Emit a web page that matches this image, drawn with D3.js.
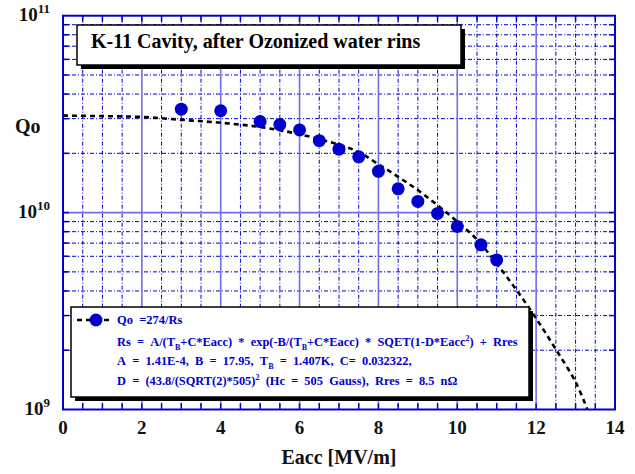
<!DOCTYPE html>
<html>
<head>
  <meta charset="UTF-8">
  <style>
    body {
      margin: 0;
      background: #fff;
    }
    svg text {
      font-family: 'Liberation Serif', 'Times New Roman', serif;
      font-weight: bold;
    }
    .tick-label {
      font-size: 19px;
      fill: #111;
    }
    .legend-text {
      font-size: 12.4px;
      fill: #0000cc;
    }
  </style>
  <script src="https://d3js.org/d3.v7.min.js"></script>
</head>
<body>
  <div class="chart"></div>
</body>
<script>
// measured points
const eacc = [3.0, 4.0, 5.0, 5.5, 6.0, 6.5, 7.0, 7.5, 8.0, 8.5, 9.0, 9.5, 10.0, 10.6, 11.0];
const qo = [3.35e10, 3.29e10, 2.9e10, 2.8e10, 2.63e10, 2.32e10, 2.1e10, 1.92e10, 1.62e10, 1.32e10, 1.14e10, 0.99e10, 0.85e10, 6.86e9, 5.75e9];

// fit curve
const fitE = [0, 1, 2, 3, 4, 5, 6, 7, 7.5, 8, 8.5, 9, 9.5, 10, 10.5, 11, 11.5, 12, 12.5, 13, 13.3];
const fitQ = [3.11e10, 3.09e10, 3.06e10, 2.96e10, 2.86e10, 2.72e10, 2.5e10, 2.21e10, 2.03e10, 1.76e10, 1.52e10, 1.3e10, 1.09e10, 9.0e9, 7.3e9, 5.5e9, 4.05e9, 2.9e9, 2.02e9, 1.38e9, 1.0e9];

const xTicks = [0, 2, 4, 6, 8, 10, 12, 14];
const yDecades = [1e9, 1e10, 1e11];
const yDecadeExp = ['9', '10', '11'];

const titleText = 'K-11 Cavity, after Ozonized water rins';
// legend strings are written with single spaces, every space is drawn double
const legendLabel = 'Qo =274/Rs';
const legendLines = [
  [['Rs = A/(T'], ['B', 'sub'], ['+C*Eacc) * exp(-B/(T'], ['B', 'sub'], ['+C*Eacc) * SQET(1-D*Eacc'], ['2', 'sup'], [') + Rres']],
  [['A = 1.41E-4, B = 17.95, T'], ['B', 'sub'], [' = 1.407K, C= 0.032322,']],
  [['D = (43.8/(SQRT(2)*505)'], ['2', 'sup'], [' (Hc = 505 Gauss), Rres = 8.5 n\u03A9']]
];

const wide = s => s.replace(/ /g, '\u00A0\u00A0');

window.onload = () => {
  const width = 635, height = 474;
  const blue = '#0000cc';

  const svg = d3.select('.chart').append('svg')
    .attr('width', width)
    .attr('height', height);

  const x = d3.scaleLinear().domain([0, 14]).range([63, 615]);
  const y = d3.scaleLog().domain([1e9, 1e11]).range([409.5, 15.7]);

  const [x0, x1] = x.range();
  const [y0, y1] = y.range();

  // minor log positions (2..9 x 10^k)
  const minorY = [];
  [1e9, 1e10].forEach(d => { for (let k = 2; k <= 9; k++) minorY.push(d * k); });
  const halfX = d3.range(0.5, 14, 0.5);

  const grid = svg.append('g');

  // dashed grid
  grid.selectAll('.vminor').data(halfX.filter(v => v % 2 !== 0)).join('line')
    .attr('x1', d => x(d)).attr('x2', d => x(d))
    .attr('y1', y1).attr('y2', y0)
    .attr('stroke', blue).attr('stroke-width', 1)
    .attr('stroke-dasharray', '4,2,1,2');

  grid.selectAll('.hminor').data(minorY).join('line')
    .attr('x1', x0).attr('x2', x1)
    .attr('y1', d => y(d)).attr('y2', d => y(d))
    .attr('stroke', blue).attr('stroke-width', 1)
    .attr('stroke-dasharray', '4,2,1,2');

  // solid major grid
  grid.selectAll('.vmajor').data(xTicks.slice(1, -1)).join('line')
    .attr('x1', d => x(d)).attr('x2', d => x(d))
    .attr('y1', y1).attr('y2', y0)
    .attr('stroke', '#6f6fe6').attr('stroke-width', 1.6);

  grid.append('line')
    .attr('x1', x0).attr('x2', x1)
    .attr('y1', y(1e10)).attr('y2', y(1e10))
    .attr('stroke', '#6f6fe6').attr('stroke-width', 1.6);

  // ticks on the frame, pointing inwards
  const tickLen = 6;
  const tk = svg.append('g').attr('stroke', blue).attr('stroke-width', 1.5);
  halfX.forEach(v => {
    tk.append('line').attr('x1', x(v)).attr('x2', x(v)).attr('y1', y0).attr('y2', y0 - tickLen);
    tk.append('line').attr('x1', x(v)).attr('x2', x(v)).attr('y1', y1).attr('y2', y1 + tickLen);
  });
  minorY.concat([1e10]).forEach(v => {
    tk.append('line').attr('x1', x0).attr('x2', x0 + tickLen).attr('y1', y(v)).attr('y2', y(v));
    tk.append('line').attr('x1', x1).attr('x2', x1 - tickLen).attr('y1', y(v)).attr('y2', y(v));
  });

  // fit curve
  svg.append('clipPath').attr('id', 'plot-clip')
    .append('rect').attr('x', x0).attr('y', y1).attr('width', x1 - x0).attr('height', y0 - y1);

  const line = d3.line()
    .x((d, i) => x(fitE[i]))
    .y(d => y(d))
    .curve(d3.curveCatmullRom);

  svg.append('path')
    .datum(fitQ)
    .attr('clip-path', 'url(#plot-clip)')
    .attr('d', line)
    .attr('fill', 'none')
    .attr('stroke', '#000')
    .attr('stroke-width', 2.6)
    .attr('stroke-dasharray', '5,4');

  // points
  svg.append('g').selectAll('circle').data(qo).join('circle')
    .attr('cx', (d, i) => x(eacc[i]))
    .attr('cy', d => y(d))
    .attr('r', 6.5)
    .attr('fill', blue);

  // frame
  svg.append('rect')
    .attr('x', x0).attr('y', y1)
    .attr('width', x1 - x0).attr('height', y0 - y1)
    .attr('fill', 'none').attr('stroke', blue).attr('stroke-width', 2);

  // x tick labels
  svg.append('g').selectAll('text').data(xTicks).join('text')
    .attr('class', 'tick-label')
    .attr('x', d => x(d))
    .attr('y', 434)
    .attr('text-anchor', 'middle')
    .text(d => d);

  // y tick labels 10^k
  yDecades.forEach((d, i) => {
    const t = svg.append('text')
      .attr('class', 'tick-label')
      .attr('x', 50)
      .attr('y', y(d) + 5)
      .attr('text-anchor', 'end');
    t.append('tspan').text('10');
    t.append('tspan').attr('dy', -8).style('font-size', '13px').text(yDecadeExp[i]);
  });

  svg.append('text').attr('class', 'tick-label')
    .attr('x', 15).attr('y', 133)
    .style('font-size', '20px')
    .text('Qo');

  svg.append('text').attr('class', 'tick-label')
    .attr('x', (x0 + x1) / 2).attr('y', 464)
    .attr('text-anchor', 'middle')
    .style('font-size', '20px')
    .text('Eacc [MV/m]');

  // box with drop shadow
  function shadowBox(bx, by, bw, bh) {
    svg.append('rect')
      .attr('x', bx + 4).attr('y', by + 4)
      .attr('width', bw).attr('height', bh)
      .attr('fill', '#000');
    svg.append('rect')
      .attr('x', bx).attr('y', by)
      .attr('width', bw).attr('height', bh)
      .attr('fill', '#fff').attr('stroke', '#000').attr('stroke-width', 1.5);
  }

  // title box
  shadowBox(77, 25, 384, 40);
  svg.append('text')
    .attr('x', 91).attr('y', 48)
    .style('font-size', '20px')
    .attr('fill', '#000')
    .text(titleText);

  // legend box
  shadowBox(71, 307, 458, 90);

  const lg = svg.append('g');
  lg.append('line')
    .attr('x1', 77).attr('x2', 113).attr('y1', 320).attr('y2', 320)
    .attr('stroke', '#000').attr('stroke-width', 2.6).attr('stroke-dasharray', '5,4');
  lg.append('circle').attr('cx', 96).attr('cy', 320).attr('r', 6.5).attr('fill', blue);
  lg.append('text').attr('class', 'legend-text')
    .attr('x', 117).attr('y', 324)
    .style('font-size', '12.5px')
    .text(wide(legendLabel));

  const lineY = [346, 365, 385];
  legendLines.forEach((segs, i) => {
    const t = lg.append('text').attr('class', 'legend-text')
      .attr('x', 117).attr('y', lineY[i]);
    let shift = 0;
    segs.forEach(([txt, kind]) => {
      const target = kind === 'sub' ? 4 : kind === 'sup' ? -5 : 0;
      const ts = t.append('tspan').attr('dy', target - shift).text(wide(txt));
      if (kind) ts.style('font-size', '8px');
      shift = target;
    });
  });
};
</script>
</html>
